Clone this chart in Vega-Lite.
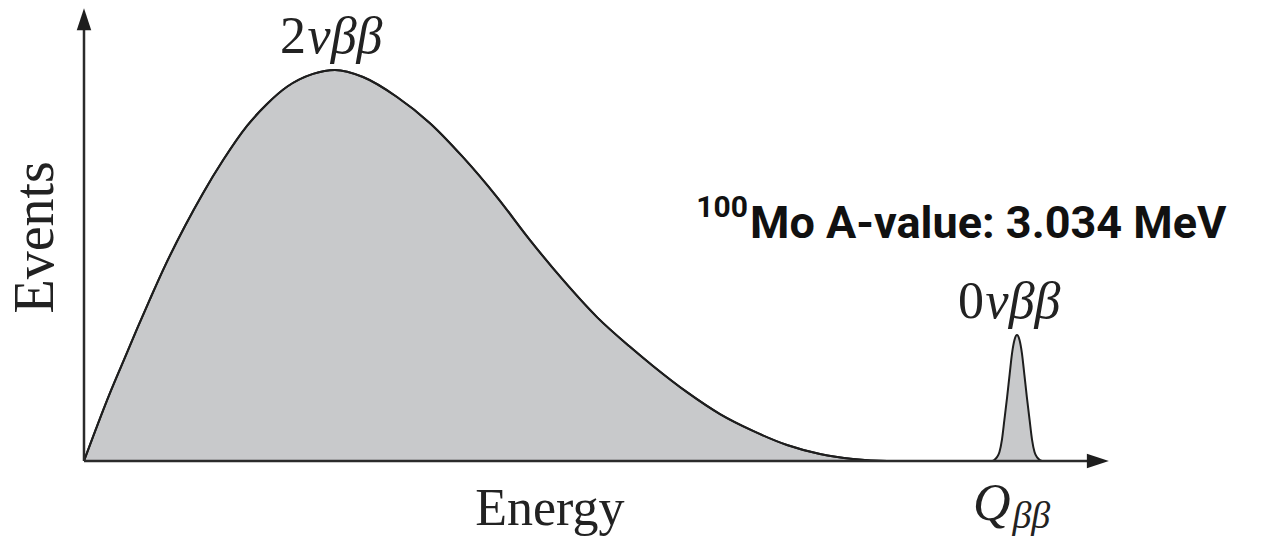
{
  "$schema": "https://vega.github.io/schema/vega-lite/v6.json",
  "width": 1261,
  "height": 543,
  "autosize": "none",
  "padding": 0,
  "background": "white",
  "config": {"view": {"stroke": null}},
  "datasets": {
    "spectrum": [
      {"component": "2nu", "energy": 0.0000, "events": 0.0},
      {"component": "2nu", "energy": 0.0846, "events": 17.4},
      {"component": "2nu", "energy": 0.1268, "events": 25.3},
      {"component": "2nu", "energy": 0.1724, "events": 33.8},
      {"component": "2nu", "energy": 0.2146, "events": 41.4},
      {"component": "2nu", "energy": 0.2634, "events": 49.9},
      {"component": "2nu", "energy": 0.3284, "events": 60.1},
      {"component": "2nu", "energy": 0.3870, "events": 68.5},
      {"component": "2nu", "energy": 0.4520, "events": 76.9},
      {"component": "2nu", "energy": 0.5301, "events": 85.7},
      {"component": "2nu", "energy": 0.5951, "events": 91.3},
      {"component": "2nu", "energy": 0.6601, "events": 95.7},
      {"component": "2nu", "energy": 0.7447, "events": 99.0},
      {"component": "2nu", "energy": 0.8162, "events": 100.0},
      {"component": "2nu", "energy": 0.9073, "events": 98.2},
      {"component": "2nu", "energy": 1.0179, "events": 93.1},
      {"component": "2nu", "energy": 1.1252, "events": 86.4},
      {"component": "2nu", "energy": 1.2325, "events": 77.7},
      {"component": "2nu", "energy": 1.3430, "events": 67.5},
      {"component": "2nu", "energy": 1.4503, "events": 56.5},
      {"component": "2nu", "energy": 1.5577, "events": 46.3},
      {"component": "2nu", "energy": 1.6682, "events": 36.8},
      {"component": "2nu", "energy": 1.7755, "events": 29.2},
      {"component": "2nu", "energy": 1.8503, "events": 24.3},
      {"component": "2nu", "energy": 1.9609, "events": 17.6},
      {"component": "2nu", "energy": 2.0682, "events": 12.0},
      {"component": "2nu", "energy": 2.1755, "events": 7.7},
      {"component": "2nu", "energy": 2.2861, "events": 4.1},
      {"component": "2nu", "energy": 2.3934, "events": 1.8},
      {"component": "2nu", "energy": 2.5007, "events": 0.5},
      {"component": "2nu", "energy": 2.6113, "events": 0.0},
      {"component": "2nu", "energy": 2.7186, "events": 0.0},
      {"component": "2nu", "energy": 2.9000, "events": 0.0},
      {"component": "0nu", "energy": 2.953, "events": 0.0},
      {"component": "0nu", "energy": 2.961, "events": 0.3},
      {"component": "0nu", "energy": 2.969, "events": 1.0},
      {"component": "0nu", "energy": 2.977, "events": 2.3},
      {"component": "0nu", "energy": 2.985, "events": 5.4},
      {"component": "0nu", "energy": 2.993, "events": 10.5},
      {"component": "0nu", "energy": 3.002, "events": 16.4},
      {"component": "0nu", "energy": 3.010, "events": 22.1},
      {"component": "0nu", "energy": 3.018, "events": 27.6},
      {"component": "0nu", "energy": 3.026, "events": 31.0},
      {"component": "0nu", "energy": 3.034, "events": 32.2},
      {"component": "0nu", "energy": 3.042, "events": 31.0},
      {"component": "0nu", "energy": 3.050, "events": 27.6},
      {"component": "0nu", "energy": 3.058, "events": 22.1},
      {"component": "0nu", "energy": 3.066, "events": 16.4},
      {"component": "0nu", "energy": 3.075, "events": 10.5},
      {"component": "0nu", "energy": 3.083, "events": 5.4},
      {"component": "0nu", "energy": 3.091, "events": 2.3},
      {"component": "0nu", "energy": 3.099, "events": 1.0},
      {"component": "0nu", "energy": 3.107, "events": 0.3},
      {"component": "0nu", "energy": 3.115, "events": 0.0}
    ],
    "axes": [
      {"axis": "events", "energy": 0, "events": 0, "energy2": 0, "events2": 111.0},
      {"axis": "energy", "energy": 0, "events": 0, "energy2": 3.285, "events2": 0}
    ],
    "yArrow": [{"energy": 0, "events": 113.0}],
    "xArrow": [{"energy": 3.297, "events": 0}],
    "numeral": [
      {"label": "2", "energy": 0.722, "events": 104.3},
      {"label": "0", "energy": 2.927, "events": 36.6}
    ],
    "greek": [
      {"label": "νββ", "energy": 0.727, "events": 104.3},
      {"label": "νββ", "energy": 2.932, "events": 36.6}
    ],
    "qLabel": [{"label": "Q", "energy": 3.013, "events": -15.1}],
    "qSub": [{"label": "ββ", "energy": 3.019, "events": -17.1}],
    "energyTitle": [{"label": "Energy", "energy": 1.515, "events": -16.4}],
    "eventsTitle": [{"label": "Events", "energy": -0.1008, "events": 57.2}],
    "isotope": [{"label": "100", "energy": 2.159, "events": 62.4}],
    "qvalue": [{"label": "Mo A-value: 3.034 MeV", "energy": 2.166, "events": 57.0}]
  },
  "encoding": {
    "x": {"field": "energy", "type": "quantitative", "scale": {"domain": [-0.27316, 3.8275], "nice": false, "zero": false}, "axis": null},
    "y": {"field": "events", "type": "quantitative", "scale": {"domain": [-20.97, 117.9], "nice": false, "zero": false}, "axis": null}
  },
  "layer": [
    {
      "data": {"name": "spectrum"},
      "mark": {"type": "area", "interpolate": "monotone", "color": "#c8c9cb", "opacity": 1, "line": {"color": "#1e1e1e", "strokeWidth": 2}},
      "encoding": {"detail": {"field": "component"}}
    },
    {
      "data": {"name": "axes"},
      "mark": {"type": "rule", "color": "#2b2b2b", "strokeWidth": 2.5},
      "encoding": {
        "x2": {"field": "energy2"},
        "y2": {"field": "events2"}
      }
    },
    {
      "data": {"name": "yArrow"},
      "mark": {"type": "point", "shape": "M0,-1L0.66,1L-0.66,1Z", "size": 484, "filled": true, "color": "#1e1e1e", "opacity": 1},
      "encoding": {}
    },
    {
      "data": {"name": "xArrow"},
      "mark": {"type": "point", "shape": "M1,0L-1,0.66L-1,-0.66Z", "size": 484, "filled": true, "color": "#1e1e1e", "opacity": 1},
      "encoding": {}
    },
    {
      "data": {"name": "numeral"},
      "mark": {"type": "text", "font": "Liberation Serif", "fontSize": 52, "align": "right", "baseline": "alphabetic", "color": "#222"},
      "encoding": {"text": {"field": "label"}}
    },
    {
      "data": {"name": "greek"},
      "mark": {"type": "text", "font": "Liberation Serif", "fontStyle": "italic", "fontSize": 52, "align": "left", "baseline": "alphabetic", "color": "#222"},
      "encoding": {"text": {"field": "label"}}
    },
    {
      "data": {"name": "qLabel"},
      "mark": {"type": "text", "font": "Liberation Serif", "fontStyle": "italic", "fontSize": 52, "align": "right", "baseline": "alphabetic", "color": "#222"},
      "encoding": {"text": {"field": "label"}}
    },
    {
      "data": {"name": "qSub"},
      "mark": {"type": "text", "font": "Liberation Serif", "fontStyle": "italic", "fontSize": 38, "align": "left", "baseline": "alphabetic", "color": "#222"},
      "encoding": {"text": {"field": "label"}}
    },
    {
      "data": {"name": "energyTitle"},
      "mark": {"type": "text", "font": "Liberation Serif", "fontSize": 52, "align": "center", "baseline": "alphabetic", "color": "#222"},
      "encoding": {"text": {"field": "label"}}
    },
    {
      "data": {"name": "eventsTitle"},
      "mark": {"type": "text", "font": "Liberation Serif", "fontSize": 56, "angle": 270, "align": "center", "baseline": "alphabetic", "color": "#222"},
      "encoding": {"text": {"field": "label"}}
    },
    {
      "data": {"name": "isotope"},
      "mark": {"type": "text", "font": "Roboto", "fontWeight": "bold", "fontSize": 30, "align": "right", "baseline": "alphabetic", "color": "#111"},
      "encoding": {"text": {"field": "label"}}
    },
    {
      "data": {"name": "qvalue"},
      "mark": {"type": "text", "font": "Roboto", "fontWeight": "bold", "fontSize": 45, "align": "left", "baseline": "alphabetic", "color": "#111"},
      "encoding": {"text": {"field": "label"}}
    }
  ]
}
